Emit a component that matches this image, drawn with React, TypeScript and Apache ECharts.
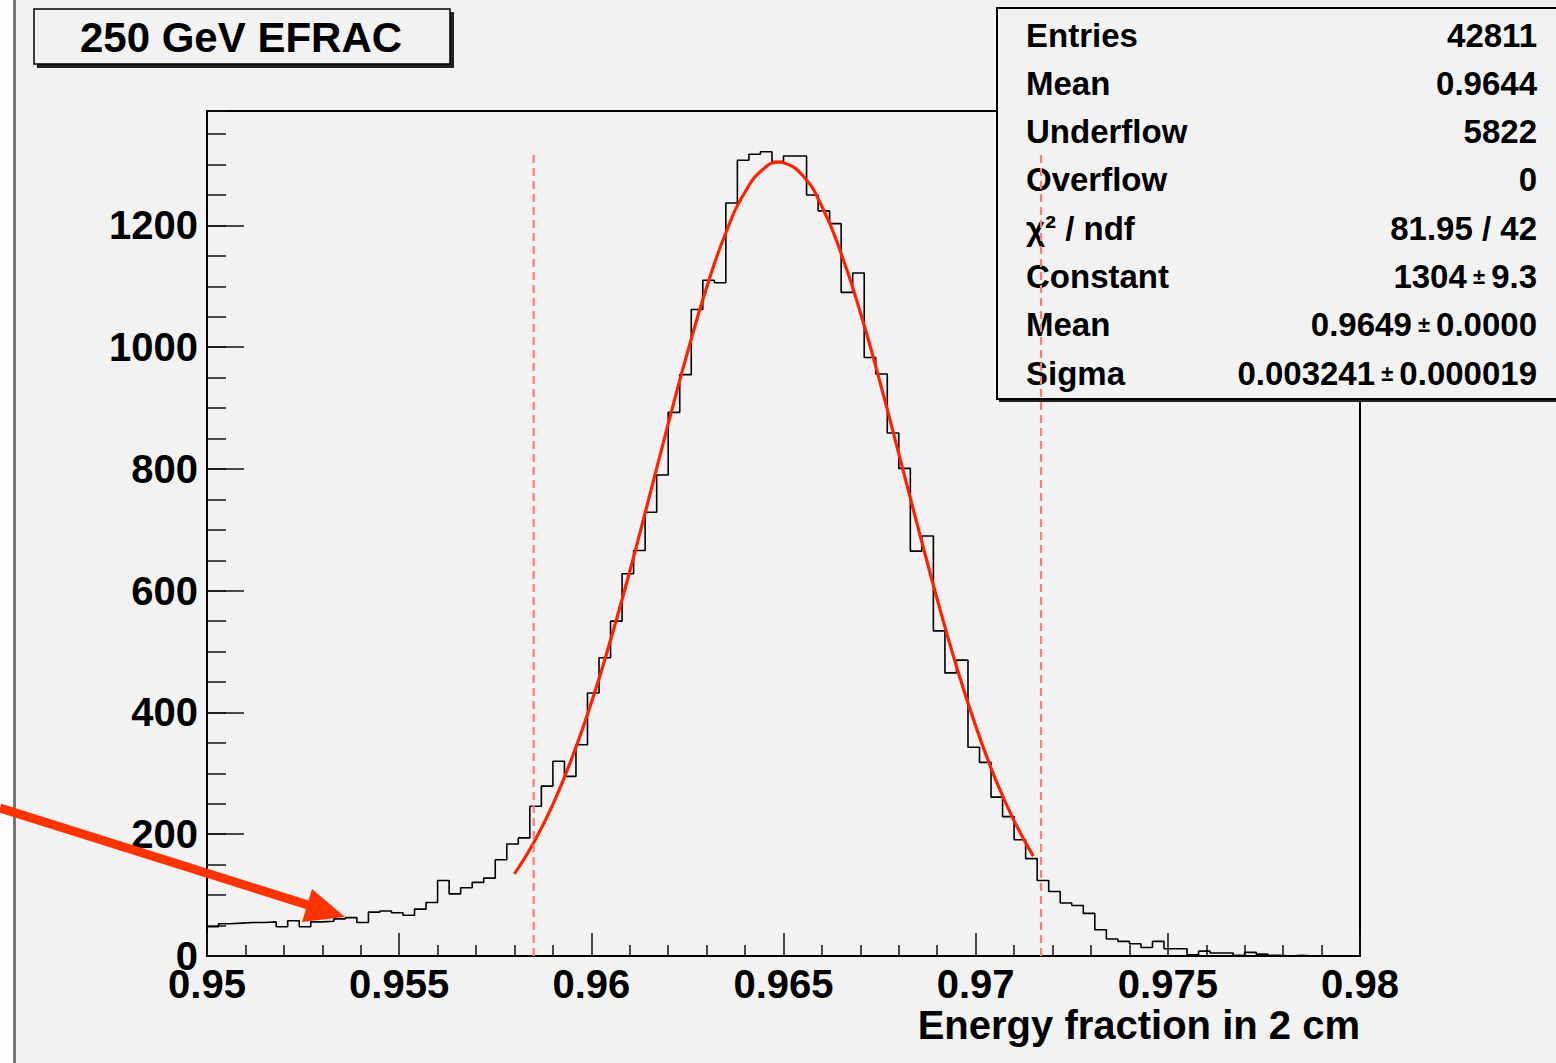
import React, { useEffect, useRef } from "react";
import * as echarts from "echarts";

// Histogram: 100 bins of 0.0003 from 0.95 to 0.98
const binLow = 0.95;
const binWidth = 0.0003;
const counts = [
  48, 53, 54, 55, 55, 56, 48, 58, 48, 56,
  57, 61, 63, 55, 72, 74, 71, 67, 77, 88,
  124, 102, 112, 121, 128, 158, 184, 194, 246, 279,
  320, 295, 347, 432, 490, 550, 628, 666, 729, 790,
  893, 955, 1062, 1110, 1106, 1237, 1307, 1317, 1321, 1305,
  1314, 1314, 1250, 1224, 1203, 1090, 1122, 983, 956, 859,
  801, 665, 690, 534, 465, 486, 343, 318, 261, 229,
  191, 160, 124, 106, 87, 83, 70, 43, 28, 24,
  20, 14, 24, 12, 12, 2, 8, 5, 5, 1,
  6, 3, 1, 0, 1, 0, 0, 0, 0, 0,
];

// Fit curve
const fitX = [
  0.958, 0.9585, 0.959, 0.9595, 0.96, 0.9605, 0.961, 0.9615, 0.962, 0.9625,
  0.963, 0.9635, 0.964, 0.9645, 0.9649, 0.965, 0.9655, 0.966, 0.9665, 0.967,
  0.9675, 0.968, 0.9685, 0.969, 0.9695, 0.97, 0.9705, 0.971, 0.9715,
];
const fitY = [
  135, 186, 249, 326, 416, 519, 632, 752, 874, 991,
  1098, 1188, 1255, 1294, 1304, 1303, 1282, 1231, 1154, 1057,
  945, 825, 704, 586, 476, 378, 293, 222, 164,
];

// Dashed cut lines
const cutX = [0.9585, 0.9717];
const cutTop = 1324;

const xTicks = { min: 0.95, max: 0.98, interval: 0.005 };
const yTicks = { min: 0, max: 1388, interval: 200, minor: 50 };

const statLabels = ["Entries", "Mean", "Underflow", "Overflow", "χ² / ndf", "Constant", "Mean", "Sigma"];
const statValues = ["42811", "0.9644", "5822", "0", "81.95 / 42", "1304 ± 9.3", "0.9649 ± 0.0000", "0.003241 ± 0.000019"];

const titleText = "250 GeV EFRAC";
const xAxisTitle = "Energy fraction in 2 cm";

const FONT = "'Liberation Sans', Arial, Helvetica, sans-serif";

export default function App() {
  const ref = useRef<HTMLDivElement>(null);
  useEffect(() => {
    document.body.style.margin = "0";
    const chart = echarts.init(ref.current!, null, { renderer: "svg" });

    const hist: number[][] = counts.map((c, i) => [binLow + i * binWidth, c]);
    hist.push([binLow + counts.length * binWidth, counts[counts.length - 1]]);
    const fit = fitX.map((x, i) => [x, fitY[i]]);

    const statGraphics: any[] = [];
    const rowY0 = 35;
    const rowStep = 48.3;
    statLabels.forEach((lab, i) => {
      statGraphics.push({
        type: "text",
        z: 11,
        x: 1026,
        y: rowY0 + i * rowStep,
        style: {
          text: lab,
          font: `bold 33px ${FONT}`,
          fill: "#000",
          align: "left",
          verticalAlign: "middle",
        },
      });
      const parts = statValues[i].split(" ± ");
      const rich = parts.length === 2 ? `{v|${parts[0]}}{pm| ± }{v|${parts[1]}}` : `{v|${parts[0]}}`;
      statGraphics.push({
        type: "text",
        z: 11,
        x: 1537,
        y: rowY0 + i * rowStep,
        style: {
          text: rich,
          align: "right",
          verticalAlign: "middle",
          rich: {
            v: { font: `bold 33px ${FONT}`, fill: "#000" },
            pm: { font: `bold 22px ${FONT}`, fill: "#000" },
          },
        },
      });
    });

    const option: any = {
      animation: false,
      backgroundColor: "#f2f2f2",
      grid: {
        left: 207,
        top: 111,
        width: 1153,
        height: 845,
        show: true,
        borderColor: "#000",
        borderWidth: 2,
        backgroundColor: "transparent",
        z: 0,
      },
      xAxis: {
        type: "value",
        min: xTicks.min,
        max: xTicks.max,
        interval: xTicks.interval,
        axisLine: { show: true, onZero: false, lineStyle: { color: "#000", width: 2 } },
        axisTick: { show: true, inside: true, length: 23, lineStyle: { color: "#111", width: 1.5 } },
        minorTick: { show: true, splitNumber: 5, length: 11, lineStyle: { color: "#111", width: 1.5 } },
        splitLine: { show: false },
        axisLabel: {
          margin: 8,
          color: "#000",
          fontFamily: FONT,
          fontWeight: "bold",
          fontSize: 40,
          formatter: (v: number) => String(+v.toFixed(3)),
        },
      },
      yAxis: [
        {
          type: "value",
          min: yTicks.min,
          max: yTicks.max,
          interval: yTicks.interval,
          axisLine: { show: true, onZero: false, lineStyle: { color: "#000", width: 2 } },
          axisTick: { show: true, inside: true, length: 37, lineStyle: { color: "#111", width: 1.5 } },
          splitLine: { show: false },
          axisLabel: {
            margin: 9,
            color: "#000",
            fontFamily: FONT,
            fontWeight: "bold",
            fontSize: 40,
            showMaxLabel: false,
            formatter: (v: number) => String(Math.round(v)),
          },
        },
        {
          type: "value",
          position: "left",
          offset: 0,
          min: yTicks.min,
          max: yTicks.max,
          interval: yTicks.minor,
          axisLine: { show: false },
          axisTick: { show: true, inside: true, length: 19, lineStyle: { color: "#111", width: 1.5 } },
          splitLine: { show: false },
          axisLabel: { show: false },
        },
      ],
      series: [
        {
          type: "line",
          name: "hist",
          data: hist,
          step: "end",
          symbol: "none",
          z: 3,
          lineStyle: { color: "#000", width: 1.6 },
        },
        {
          type: "line",
          name: "fit",
          data: fit,
          smooth: true,
          symbol: "none",
          z: 4,
          lineStyle: { color: "#ff2200", width: 3.2 },
        },
        ...cutX.map((cx) => ({
          type: "line",
          name: "cut",
          data: [
            [cx, 0],
            [cx, cutTop],
          ],
          symbol: "none",
          z: 20,
          lineStyle: { color: "#ff7a7a", width: 2.2, type: [8, 5] },
        })),
      ],
      graphic: [
        // left margin strip
        { type: "rect", z: 1, shape: { x: 0, y: 0, width: 13, height: 1063 }, style: { fill: "#fdfdfd" } },
        { type: "rect", z: 1, shape: { x: 13, y: 0, width: 3, height: 1063 }, style: { fill: "#777" } },
        // title box
        { type: "rect", z: 10, shape: { x: 37, y: 12, width: 417, height: 56 }, style: { fill: "#222" } },
        { type: "rect", z: 10, shape: { x: 34, y: 9, width: 416, height: 55 }, style: { fill: "#f2f2f2", stroke: "#000", lineWidth: 1.5 } },
        {
          type: "text",
          z: 11,
          x: 241,
          y: 37,
          style: { text: titleText, font: `bold 42px ${FONT}`, fill: "#000", align: "center", verticalAlign: "middle" },
        },
        // stats box
        { type: "rect", z: 10, shape: { x: 999, y: 11, width: 600, height: 391 }, style: { fill: "#222" } },
        { type: "rect", z: 10, shape: { x: 997, y: 8, width: 600, height: 391 }, style: { fill: "#f2f2f2", stroke: "#000", lineWidth: 2 } },
        ...statGraphics,
        // x axis title
        {
          type: "text",
          z: 11,
          x: 1360,
          y: 1025,
          style: { text: xAxisTitle, font: `bold 40px ${FONT}`, fill: "#000", align: "right", verticalAlign: "middle" },
        },
        // arrow
        { type: "line", z: 100, shape: { x1: 0, y1: 808, x2: 308, y2: 905 }, style: { stroke: "#ff3300", lineWidth: 9 } },
        {
          type: "polygon",
          z: 100,
          shape: { points: [[345, 917], [312, 889], [302, 922]] },
          style: { fill: "#ff3300" },
        },
      ],
    };
    chart.setOption(option);
    return () => chart.dispose();
  }, []);
  return <div ref={ref} style={{ position: "fixed", left: 0, top: 0, width: 1556, height: 1063 }} />;
}
